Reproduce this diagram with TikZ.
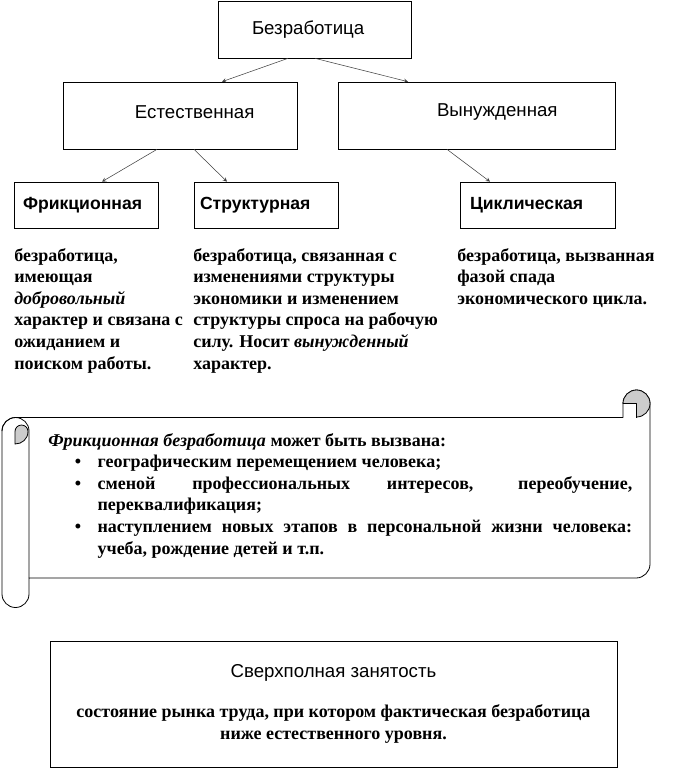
\documentclass[tikz,border=0pt]{standalone}
\usepackage{fontspec}
\setmainfont{Liberation Serif}
\setsansfont{Liberation Sans}
\usetikzlibrary{calc}
\begin{document}
\begin{tikzpicture}[
    x=0.75pt, y=-0.75pt,
    unempBox/.style={draw, line width=0.5pt, inner xsep=0pt, inner ysep=0pt,
        align=left, font=\sffamily\fontsize{14}{16}\selectfont},
    unempKind/.style={unempBox, minimum height=34.5pt,
        font=\sffamily\bfseries\fontsize{13.2}{15}\selectfont},
    unempArrow/.style={->, line width=0.4pt, black!75},
    unempNote/.style={anchor=north west, inner sep=0pt, align=left,
        font=\bfseries\fontsize{13.5}{16.2}\selectfont},
    unempScroll/.style={line width=0.6pt, line join=round},
    >=stealth
]
    \useasboundingbox (0,0) rectangle (676,769);

    % верхний уровень
    \node[unempBox, text width=144.75pt, minimum height=42.75pt] (unemp) at (314.5,29.5)
        {\hspace*{25.5pt}Безработица};
    \node[unempBox, text width=175.5pt, minimum height=50.25pt] (natural) at (180,115.5)
        {\hspace*{54pt}\raisebox{2.5pt}[\height][\depth]{Естественная}};
    \node[unempBox, text width=207.75pt, minimum height=50.25pt] (forced) at (476.5,115.5)
        {\hspace*{74.25pt}\raisebox{2.5pt}[\height][\depth]{Вынужденная}};

    % виды
    \node[unempKind, text width=108pt] (fric) at (86,205) {\hspace*{6.75pt}Фрикционная};
    \node[unempKind, text width=108pt] (struct) at (266,205) {\hspace*{4.5pt}Структурная};
    \node[unempKind, text width=116.25pt] (cycl) at (537.5,205) {\hspace*{7.5pt}Циклическая};

    \draw[unempArrow] ($(unemp.south)+(-26.5,0)$) -- ($(natural.north)+(42,0)$);
    \draw[unempArrow] ($(unemp.south)+(0.5,0)$) -- ($(forced.north)+(-68.5,0)$);
    \draw[unempArrow] ($(natural.south)+(-23,0)$) -- ($(fric.north)+(16,0)$);
    \draw[unempArrow] ($(natural.south)+(14,0)$) -- ($(struct.north)+(-39,0)$);
    \draw[unempArrow] ($(forced.south)+(-29.5,0)$) -- ($(cycl.north)+(-47.5,0)$);

    % пояснения
    \node[unempNote] (fricNote) at (14,248) {безработица,\\ имеющая\\ \textit{добровольный}\\
        характер и связана с\\ ожиданием и\\ поиском работы.};
    \node[unempNote] (structNote) at (193,248) {безработица, связанная с\\ изменениями структуры\\
        экономики и изменением\\ структуры спроса на рабочую\\ силу. Носит \textit{вынужденный}\\ характер.};
    \node[unempNote] (cyclNote) at (457,248) {безработица, вызванная\\ фазой спада\\ экономического цикла.};

    % свиток
    \draw[unempScroll, fill=white]
        (2,431) arc[start angle=180, end angle=270, radius=13.5]
        -- (623,417.5) -- (623,403.5) arc[start angle=180, end angle=360, radius=13.5]
        -- (650,564) arc[start angle=0, end angle=90, radius=14]
        -- (29,578) -- (29,594) arc[start angle=0, end angle=180, radius=13.5]
        -- cycle;
    \draw[unempScroll] (2,431) arc[start angle=180, end angle=360, radius=13.5] -- (29,578);
    \draw[unempScroll, fill=gray!40] (15,444) -- (15,431.5) arc[start angle=180, end angle=360, radius=6.5]
        .. controls (28,439) and (22,444) .. cycle;
    \draw[unempScroll, fill=gray!40] (636.5,403.5) -- (623,403.5)
        arc[start angle=180, end angle=450, radius=13.5] -- cycle;
    \draw[unempScroll] (636.5,403.5) -- (636.5,417.5);

    \node[unempNote] (fricCauses) at (48,433) {%
        \textit{Фрикционная безработица} может быть вызвана:\\
        \hspace*{20pt}\makebox[17pt][l]{\textbullet}географическим перемещением человека;\\
        \hspace*{20pt}\makebox[17pt][l]{\textbullet}\makebox[401pt][s]{сменой профессиональных интересов, переобучение,}\\
        \hspace*{37pt}переквалификация;\\
        \hspace*{20pt}\makebox[17pt][l]{\textbullet}\makebox[401pt][s]{наступлением новых этапов в персональной жизни человека:}\\
        \hspace*{37pt}учеба, рождение детей и т.п.};

    % сверхполная занятость
    \node[draw, line width=0.5pt, minimum width=425.25pt, minimum height=94.5pt, align=center,
        font=\bfseries\fontsize{13.5}{16.2}\selectfont] (overfull) at (333.5,704)
        {{\sffamily\mdseries\fontsize{14}{16}\selectfont Сверхполная занятость}\\[14pt]
        состояние рынка труда, при котором фактическая безработица\\
        ниже естественного уровня.};
\end{tikzpicture}
\end{document}
